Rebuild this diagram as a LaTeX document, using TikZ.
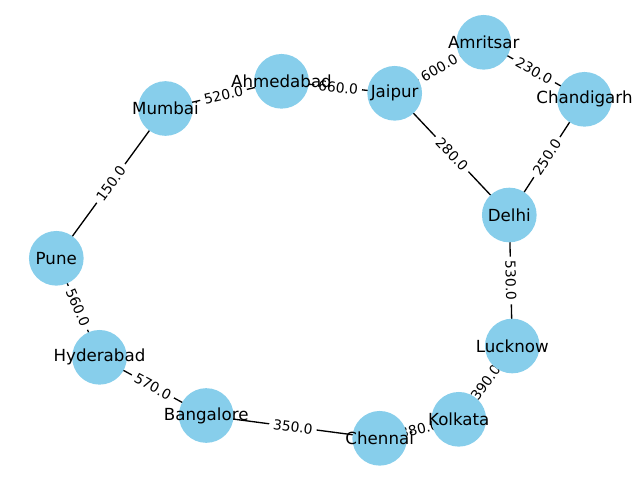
\documentclass[tikz,border=0pt]{standalone}
\usepackage{fontspec}
\setmainfont{DejaVu Sans}
\usetikzlibrary{backgrounds}
\definecolor{skyblue}{HTML}{87CEEB}
\tikzset{
  city/.style={circle, fill=skyblue, draw=none, minimum size=41pt, inner sep=0pt,
    label={[font=\fontsize{12.5}{15}\selectfont, inner sep=0pt, text=black]center:#1}},
  road/.style={draw=black, line width=1pt},
  dist/.style={sloped, midway, fill=white, rounded corners=3pt, inner sep=3pt,
    font=\fontsize{10.4}{12}\selectfont},
}
\begin{document}
\begin{tikzpicture}[x=0.75pt, y=-0.75pt]
\useasboundingbox (0,0) rectangle (640,480);
\node[city=Amritsar] (amr) at (483.7,42.3) {};
\node[city=Chandigarh] (cha) at (584.5,99.3) {};
\node[city=Jaipur] (jai) at (394.7,93.3) {};
\node[city=Ahmedabad] (ahm) at (281.5,81.3) {};
\node[city=Mumbai] (mum) at (165.5,108.5) {};
\node[city=Delhi] (del) at (509.3,215) {};
\node[city=Pune] (pun) at (56.3,258.3) {};
\node[city=Lucknow] (luc) at (512.3,346) {};
\node[city=Hyderabad] (hyd) at (99.5,357.3) {};
\node[city=Kolkata] (kol) at (458.8,419.3) {};
\node[city=Bangalore] (ban) at (206.2,415.5) {};
\node[city=Chennai] (che) at (379.7,438.3) {};
\begin{scope}[on background layer]
\path[road] (mum.center) -- node[dist] {520.0} (ahm.center);
\path[road] (ahm.center) -- node[dist] {660.0} (jai.center);
\path[road] (jai.center) -- node[dist] {600.0} (amr.center);
\path[road] (amr.center) -- node[dist] {230.0} (cha.center);
\path[road] (del.center) -- node[dist] {250.0} (cha.center);
\path[road] (jai.center) -- node[dist] {280.0} (del.center);
\path[road] (del.center) -- node[dist] {530.0} (luc.center);
\path[road] (kol.center) -- node[dist] {390.0} (luc.center);
\path[road] (che.center) -- node[dist] {380.0} (kol.center);
\path[road] (ban.center) -- node[dist] {350.0} (che.center);
\path[road] (hyd.center) -- node[dist] {570.0} (ban.center);
\path[road] (pun.center) -- node[dist] {560.0} (hyd.center);
\path[road] (pun.center) -- node[dist] {150.0} (mum.center);
\end{scope}
\end{tikzpicture}
\end{document}
